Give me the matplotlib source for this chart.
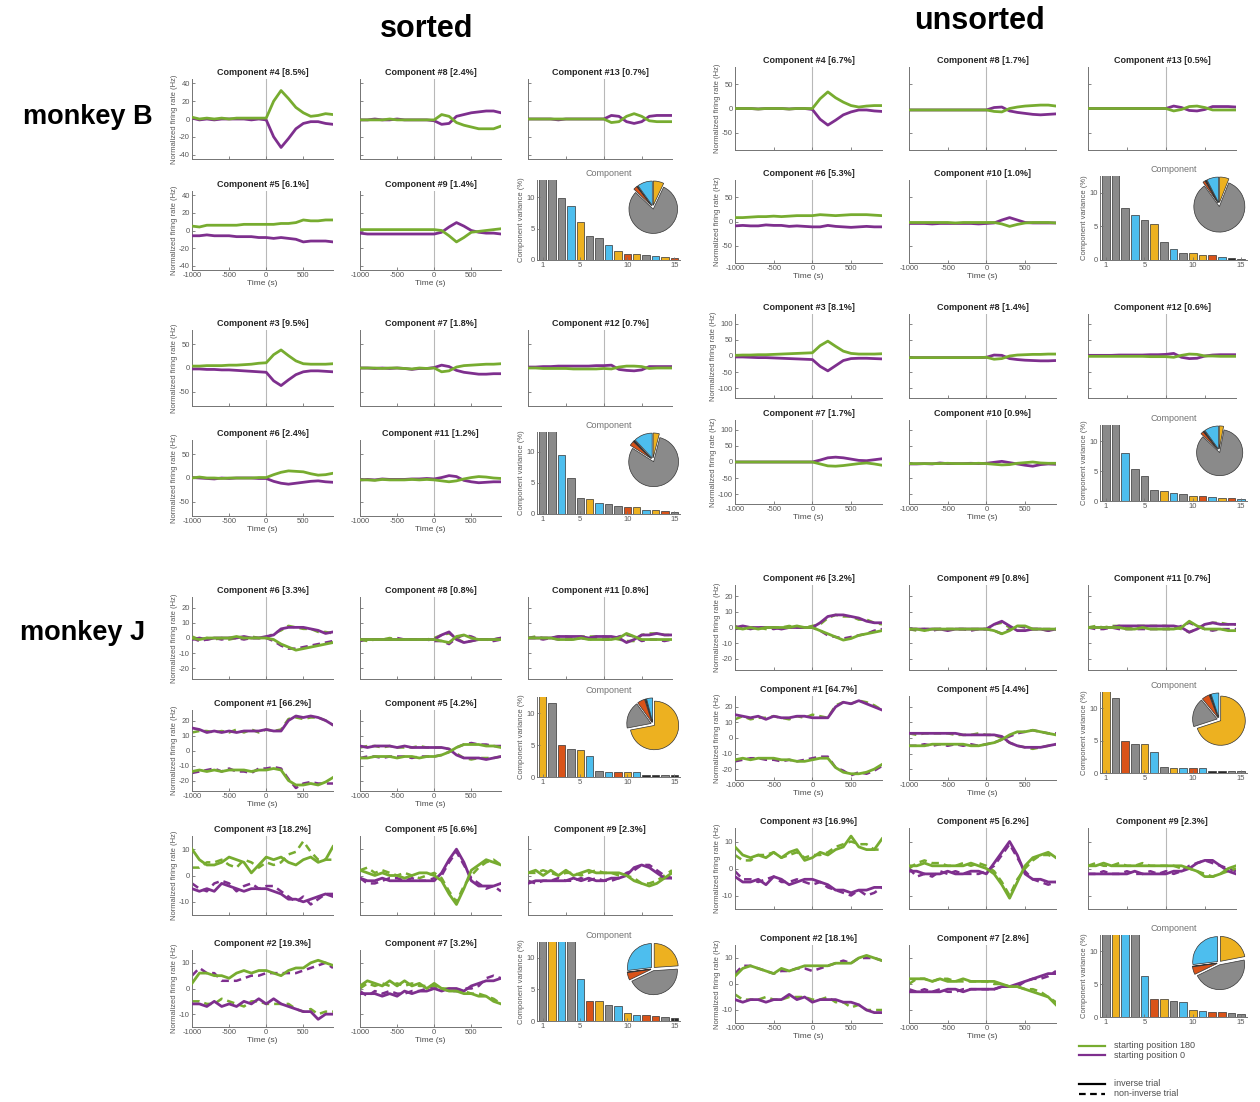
import numpy as np
import matplotlib.pyplot as plt
from matplotlib.lines import Line2D

plt.rcParams['font.family'] = ['Liberation Sans', 'DejaVu Sans']
plt.rcParams['axes.unicode_minus'] = False

W, H = 1260, 1102
GREEN = '#77ac30'
PURPLE = '#7e2f8e'
SHADES = {'G': '#8a8a8a', 'B': '#4dbeee', 'Y': '#edb120', 'R': '#d95319', 'K': '#2a2a2a'}
PIE_ORDER = ['Y', 'G', 'R', 'K', 'B']

# time axis (ms), one sample every 100 ms
TIME = np.arange(-1000, 901, 100)

# ---------------- monkey B, sorted ----------------
bs1_c4_g = [2, 0, 1, 0, 1, 0, 1, 1, 1, 1, 1, 20, 32, 23, 13, 7, 3, 4, 6, 5]
bs1_c4_p = [1, -1, 0, -1, 0, 0, 0, 0, -1, 0, -1, -20, -32, -22, -11, -5, -3, -3, -5, -6]
bs1_c8_g = [-1, -1, -1, -1, 0, -1, -1, -1, -1, -1, -1, 5, 3, -4, -7, -9, -11, -11, -11, -8]
bs1_c8_p = [-1, -1, 0, -1, -1, 0, -1, -1, -1, -1, -2, -6, -5, 3, 5, 7, 8, 9, 9, 7]
bs1_c13_g = [0, 0, 0, 0, 0, 0, 0, 0, 0, 0, 0, -4, -3, 3, 6, 3, -2, -3, -3, -3]
bs1_c13_p = [0, 0, 0, 0, -1, 0, 0, 0, 0, 0, 0, 4, 3, -3, -5, -3, 3, 4, 4, 4]
bs1_c5_g = [5, 4, 6, 6, 6, 6, 6, 7, 7, 7, 7, 7, 8, 8, 9, 12, 11, 11, 12, 12]
bs1_c5_p = [-6, -6, -5, -6, -6, -6, -7, -7, -7, -8, -8, -9, -8, -9, -10, -13, -12, -12, -12, -13]
bs1_c9_g = [1, 1, 1, 1, 1, 1, 1, 1, 1, 1, 1, 0, -6, -13, -8, -2, -1, 0, 1, 2]
bs1_c9_p = [-3, -4, -4, -4, -4, -4, -4, -4, -4, -4, -4, -2, 4, 9, 5, 0, -2, -3, -3, -4]
bs1_bars = [30, 20, 9.9, 8.5, 6.1, 3.8, 3.5, 2.4, 1.4, 1.0, 0.9, 0.8, 0.7, 0.5, 0.3]
bs1_bar_cols = 'GGGBYGGBYRYGBYR'
bs1_pie = [7, 80, 2.5, 0.5, 10]

bs2_c3_g = [4, 4, 5, 5, 5, 6, 6, 7, 8, 10, 11, 28, 38, 26, 15, 9, 8, 8, 8, 9]
bs2_c3_p = [-2, -2, -3, -3, -4, -4, -5, -6, -7, -8, -9, -27, -37, -25, -14, -8, -6, -6, -7, -8]
bs2_c7_g = [0, 0, 0, -1, 0, 0, -1, -2, 0, -1, 0, -8, -6, 2, 5, 6, 7, 8, 8, 9]
bs2_c7_p = [0, 0, -1, 0, -1, 0, -1, -3, -1, -1, 1, 6, 3, -5, -9, -11, -13, -13, -12, -12]
bs2_c12_g = [0, 0, -1, -1, -1, -1, -2, -2, -2, -2, -1, -2, 2, 4, 4, 3, -1, 0, 0, 0]
bs2_c12_p = [2, 2, 3, 3, 4, 4, 4, 4, 4, 5, 5, 6, -3, -5, -6, -4, 3, 3, 3, 3]
bs2_c6_g = [0, 2, 0, 0, -1, 0, 0, 0, 0, 1, 1, 7, 12, 15, 14, 13, 9, 6, 7, 10]
bs2_c6_p = [1, 0, -1, -2, 0, -1, 0, 0, 0, -1, -1, -7, -11, -13, -11, -9, -7, -6, -8, -9]
bs2_c11_g = [-4, -4, -5, -3, -4, -4, -4, -3, -4, -3, -4, -6, -8, -6, -2, 1, 3, 2, 0, -1]
bs2_c11_p = [-4, -3, -4, -2, -3, -3, -3, -2, -2, -1, -2, 1, 5, 3, -5, -8, -10, -9, -8, -8]
bs2_bars = [30, 20, 9.5, 5.8, 2.6, 2.4, 1.8, 1.6, 1.3, 1.2, 1.2, 0.7, 0.7, 0.5, 0.35]
bs2_bar_cols = 'GGBGGYBGGRYBYRG'
bs2_pie = [4, 80, 3, 1, 12]

# ---------------- monkey B, unsorted ----------------
bu1_c4_g = [0, 0, 0, -1, 0, 0, 0, -1, 0, 0, 0, 20, 34, 22, 13, 6, 3, 5, 6, 6]
bu1_c4_p = [0, 0, 0, -1, 0, 0, 0, -1, 0, 0, -2, -22, -34, -24, -13, -7, -3, -3, -5, -6]
bu1_c8_g = [-3, -3, -3, -3, -3, -3, -3, -3, -3, -3, -3, -6, -7, 0, 3, 5, 6, 7, 7, 5]
bu1_c8_p = [-3, -3, -3, -3, -3, -3, -3, -3, -3, -3, -3, 2, 3, -5, -8, -10, -12, -13, -12, -11]
bu1_c13_g = [0, 0, 0, 0, 0, 0, 0, 0, 0, 0, 0, -5, -2, 4, 5, 2, -3, -3, -3, -3]
bu1_c13_p = [0, 0, 0, 0, 0, 0, 0, 0, 0, 0, 0, 5, 2, -4, -5, -2, 4, 4, 4, 3]
bu1_c6_g = [8, 8, 9, 10, 10, 11, 10, 11, 12, 12, 12, 14, 13, 12, 13, 14, 14, 14, 13, 12]
bu1_c6_p = [-9, -8, -9, -9, -7, -8, -8, -10, -9, -10, -11, -11, -8, -10, -11, -12, -11, -10, -11, -11]
bu1_c10_g = [-2, -2, -2, -2, -2, -2, -3, -2, -2, -2, -2, -2, -5, -10, -6, -3, -2, -2, -2, -3]
bu1_c10_p = [-4, -4, -4, -5, -4, -4, -4, -4, -4, -5, -4, -3, 3, 8, 3, -2, -3, -3, -3, -3]
bu1_bars = [30, 20, 7.8, 6.7, 6.0, 5.3, 2.7, 1.7, 1.0, 1.0, 0.8, 0.7, 0.5, 0.3, 0.2]
bu1_bar_cols = 'GGGBGYGBGYYRBKG'
bu1_pie = [6, 84, 1.5, 1, 7.5]

bu2_c3_g = [2, 3, 3, 4, 4, 5, 6, 7, 8, 9, 10, 32, 46, 30, 15, 8, 6, 6, 6, 7]
bu2_c3_p = [-3, -3, -4, -5, -5, -6, -7, -8, -9, -10, -11, -32, -46, -30, -14, -8, -7, -7, -8, -9]
bu2_c8_g = [-5, -5, -5, -5, -5, -5, -5, -5, -5, -5, -4, -10, -8, 0, 3, 4, 5, 5, 6, 6]
bu2_c8_p = [-5, -5, -5, -5, -5, -5, -5, -5, -5, -5, -4, 3, 2, -8, -11, -13, -14, -15, -15, -14]
bu2_c12_g = [-1, -1, -1, -1, -1, -1, -1, -1, -2, -2, -2, -4, 2, 6, 5, 0, 0, -1, -1, -1]
bu2_c12_p = [2, 2, 2, 2, 3, 3, 3, 3, 4, 4, 5, 8, -4, -8, -7, 0, 3, 4, 4, 4]
bu2_c7_g = [0, 0, 0, 0, 0, 0, 0, 0, 0, 0, 0, -6, -12, -13, -11, -8, -5, -3, -6, -10]
bu2_c7_p = [0, 0, 0, 0, 0, 0, 0, 0, 0, 0, 0, 6, 13, 15, 13, 9, 5, 4, 7, 10]
bu2_c10_g = [-5, -5, -5, -5, -5, -4, -5, -5, -5, -4, -5, -7, -9, -8, -4, -2, 0, -3, -4, -4]
bu2_c10_p = [-6, -6, -5, -6, -3, -5, -5, -5, -4, -5, -4, -1, 2, -2, -6, -10, -13, -8, -6, -7]
bu2_bars = [30, 20, 8.1, 5.4, 4.1, 1.9, 1.7, 1.4, 1.2, 0.9, 0.9, 0.6, 0.5, 0.45, 0.4]
bu2_bar_cols = 'GGBGGGYBGYRBYRB'
bu2_pie = [3, 84, 2, 1, 10]

# ---------------- monkey J, sorted ----------------
js1_c6_g = [0, -1, 0, 0, 0, 0, 1, 0, 0, 0, 0, -1, -4, -6, -8, -7, -6, -5, -4, -3]
js1_c6_p = [-1, 0, -1, 0, 0, 0, 0, 1, 0, 0, 1, 2, 6, 7, 7, 7, 6, 5, 3, 4]
js1_c6_gd = [1, -1, 0, -1, 0, -1, 0, 0, 1, 0, 0, 3, 5, 8, 7, 6, 6, 4, 4, 3]
js1_c6_pd = [0, -2, -1, 0, -1, 0, 0, -1, 0, 0, 0, -2, -5, -7, -7, -6, -5, -4, -3, -2]
js1_c8_g = [-1, -1, -1, -1, -1, -1, -1, -1, -1, -1, -1, -2, -3, 1, 2, 0, -1, -1, -1, -1]
js1_c8_p = [-1, -1, -1, -1, -1, -1, -1, -1, -1, -1, -1, 2, 4, -1, -3, -2, -1, -1, -1, 0]
js1_c8_gd = [-1, -2, -1, -1, 0, -1, -1, -1, -1, -1, 0, 2, 3, 0, -3, -2, -1, -1, -1, 0]
js1_c8_pd = [-2, -1, -1, -1, -1, 0, -1, -1, -1, -1, -2, -2, -4, 0, 2, 1, -1, -1, -2, -1]
js1_c11_g = [0, 0, 0, 0, -1, -1, -1, 0, -1, -1, -1, -1, 0, 3, 1, -1, -1, -1, -1, -1]
js1_c11_p = [0, 0, 0, 0, 1, 1, 1, 1, 0, 1, 1, 1, 0, -3, -1, 2, 2, 3, 2, 2]
js1_c11_gd = [0, 1, 0, 0, 1, 1, 0, 1, 1, 1, 1, 0, -1, -2, -2, 2, 3, 3, 2, 2]
js1_c11_pd = [0, 0, -1, 0, -1, -1, -1, 0, -1, 0, -1, -1, 1, 2, 1, -2, -1, -1, -2, -1]
js1_c1_g = [-14, -13, -14, -13, -14, -13, -13, -13, -14, -13, -13, -12, -13, -20, -23, -23, -22, -23, -21, -18]
js1_c1_p = [15, 14, 12, 13, 12, 13, 12, 13, 13, 13, 14, 13, 13, 20, 23, 22, 23, 22, 20, 17]
js1_c1_gd = [12, 13, 13, 12, 13, 12, 14, 12, 14, 12, 14, 13, 14, 21, 22, 21, 22, 22, 20, 17]
js1_c1_pd = [-15, -14, -13, -12, -14, -12, -14, -14, -15, -12, -12, -11, -12, -19, -25, -22, -21, -22, -22, -22]
js1_c5_g = [-5, -5, -4, -4, -4, -5, -4, -4, -5, -4, -4, -3, -1, 2, 4, 4, 4, 3, 3, 2]
js1_c5_p = [3, 2, 3, 3, 3, 2, 3, 2, 2, 2, 2, 2, 1, -3, -5, -5, -5, -6, -5, -4]
js1_c5_gd = [2, 3, 3, 2, 3, 2, 2, 2, 3, 2, 2, 2, 1, -2, -5, -6, -5, -5, -5, -4]
js1_c5_pd = [-5, -4, -4, -5, -4, -4, -4, -5, -4, -4, -4, -3, -1, 2, 4, 5, 4, 4, 3, 3]
js1_bars = [66.2, 11.5, 5.0, 4.3, 4.2, 3.3, 1.0, 0.8, 0.8, 0.8, 0.8, 0.35, 0.35, 0.3, 0.3]
js1_bar_cols = 'YGRGYBGBRYBKKGK'
js1_pie = [72, 18, 5, 1, 4]

js2_c3_g = [10, 6, 4, 4, 5, 7, 6, 5, 1, 4, 7, 6, 7, 5, 4, 6, 7, 5, 6, 11]
js2_c3_p = [-5, -6, -5, -6, -3, -4, -5, -6, -5, -5, -5, -6, -7, -9, -9, -10, -9, -8, -7, -8]
js2_c3_gd = [3, 3, 5, 5, 6, 4, 3, 6, 5, 3, 5, 4, 5, 8, 9, 13, 9, 6, 6, 6]
js2_c3_pd = [-3, -5, -6, -3, -2, -3, -6, -4, -3, -5, -4, -4, -6, -8, -10, -8, -11, -9, -7, -7]
js2_c5_g = [2, 1, 0, 1, 0, 0, -1, 0, 1, 1, 0, -2, -7, -11, -5, 2, 4, 6, 5, 4]
js2_c5_p = [-1, -2, -2, -1, -2, -2, -2, -2, -2, -2, -2, 1, 6, 10, 5, -2, -4, -4, -4, -3]
js2_c5_gd = [2, 3, 1, 2, 1, 0, 1, 0, -1, 0, 1, -1, -6, -10, -4, 0, 3, 5, 6, 4]
js2_c5_pd = [-1, -3, -3, -2, -1, -1, -2, -1, -2, -2, -1, 0, 5, 9, 4, -1, -3, -5, -4, -6]
js2_c9_g = [1, 2, 0, 2, 0, 2, 0, 1, 2, 1, 1, 1, 1, 0, -2, -3, -4, -3, -1, 1]
js2_c9_p = [-3, -2, -2, -2, -2, -2, -1, -2, -1, -2, -2, -1, -1, 0, 3, 4, 3, 1, -1, -1]
js2_c9_gd = [1, 1, 2, 1, 0, 1, 1, 0, 1, 2, 1, 1, 0, 0, -1, -3, -3, -2, 0, 2]
js2_c9_pd = [-2, -3, -2, -2, -1, -2, -2, -1, -2, -1, -2, -2, -1, 1, 2, 4, 4, 2, 0, -1]
js2_c2_g = [2, 6, 6, 5, 5, 4, 6, 7, 6, 7, 7, 6, 5, 7, 8, 8, 10, 11, 10, 9]
js2_c2_p = [-6, -6, -7, -5, -7, -6, -7, -5, -6, -4, -6, -4, -6, -7, -8, -9, -9, -12, -10, -10]
js2_c2_gd = [-5, -5, -6, -6, -4, -5, -6, -7, -5, -5, -6, -6, -6, -6, -8, -9, -8, -10, -9, -9]
js2_c2_pd = [5, 8, 6, 6, 3, 3, 3, 4, 5, 5, 6, 6, 6, 6, 6, 7, 8, 9, 10, 8]
js2_c7_g = [1, 3, 2, 1, 3, 1, 3, 1, 2, 0, 2, 0, -1, -1, -2, -2, -3, -3, -5, -6]
js2_c7_p = [-2, -2, -2, -3, -2, -3, -1, -2, -1, -1, 0, -1, 0, 0, -1, 1, 2, 3, 3, 4]
js2_c7_gd = [0, 2, 1, 2, 1, 2, 1, 2, 1, 1, 1, 0, 0, -1, -1, -2, -2, -3, -4, -6]
js2_c7_pd = [-1, -3, -1, -2, -1, -2, -2, -1, -1, 0, 1, 0, -1, -1, 0, 0, 1, 4, 5, 4]
js2_bars = [25.0, 19.3, 18.2, 15.0, 6.6, 3.2, 3.2, 2.5, 2.3, 1.2, 0.9, 0.9, 0.8, 0.6, 0.5]
js2_bar_cols = 'GYBGBRYGBYBRRGK'
js2_pie = [24, 44, 5, 0.3, 27]

# ---------------- monkey J, unsorted ----------------
ju1_c6_g = [0, -1, 0, -1, 0, 0, 0, 0, 1, 0, 0, -2, -4, -6, -8, -7, -5, -4, -3, -2]
ju1_c6_p = [0, 1, 0, 0, 0, 0, -1, 0, 0, 0, 0, 3, 7, 8, 8, 7, 6, 4, 3, 3]
ju1_c6_gd = [1, -1, 0, 0, -1, 0, 0, 1, 0, 0, 1, 2, 6, 8, 7, 7, 5, 5, 3, 2]
ju1_c6_pd = [-1, 0, -1, 0, 0, -1, 0, 0, 0, 0, 0, -2, -5, -6, -7, -6, -5, -4, -2, -1]
ju1_c9_g = [-1, -1, -2, -1, -1, -1, -1, -1, -1, -1, -1, -2, -4, -2, 1, 1, -1, -1, -1, -1]
ju1_c9_p = [-1, -1, -1, -1, -1, -2, -1, -1, -1, -1, -1, 2, 4, 1, -2, -2, -1, -1, -2, -1]
ju1_c9_gd = [-1, -2, -1, -1, -1, -1, -1, -1, -1, -1, -1, 2, 3, 0, -2, -2, -1, -1, -2, -1]
ju1_c9_pd = [-1, -1, -1, -2, -1, -1, -1, -1, -2, -1, -1, -2, -4, -1, 1, 0, -1, -1, -1, -1]
ju1_c11_g = [0, 0, 0, 0, 0, -1, -1, 0, -1, -1, -1, -1, 0, 4, 1, -1, -1, -1, -2, -2]
ju1_c11_p = [0, 0, 0, 0, 1, 1, 1, 1, 1, 1, 1, 1, 0, -3, -1, 2, 3, 2, 2, 2]
ju1_c11_gd = [0, 1, 0, 1, 1, 0, 1, 1, 1, 1, 1, 0, -1, -3, -1, 2, 3, 3, 2, 2]
ju1_c11_pd = [0, -1, -1, 0, -1, -1, -1, -1, -1, -1, -1, -1, 1, 3, 1, -1, -2, -1, -1, -1]
ju1_c1_g = [-14, -13, -14, -13, -13, -13, -14, -14, -15, -15, -14, -13, -13, -19, -22, -23, -23, -22, -20, -17]
ju1_c1_p = [15, 14, 13, 14, 12, 14, 13, 13, 14, 14, 13, 13, 13, 20, 23, 22, 24, 22, 20, 18]
ju1_c1_gd = [12, 14, 12, 13, 13, 14, 13, 12, 14, 13, 15, 14, 13, 21, 23, 22, 24, 23, 21, 18]
ju1_c1_pd = [-15, -14, -13, -13, -14, -14, -15, -14, -15, -14, -13, -12, -12, -19, -21, -24, -22, -23, -21, -18]
ju1_c5_g = [-5, -5, -5, -4, -4, -4, -4, -4, -5, -5, -4, -3, -1, 2, 4, 4, 5, 4, 3, 2]
ju1_c5_p = [3, 3, 3, 3, 3, 3, 3, 2, 2, 2, 2, 2, 1, -3, -5, -6, -6, -6, -5, -4]
ju1_c5_gd = [3, 2, 3, 3, 3, 3, 2, 2, 2, 3, 2, 2, 0, -3, -5, -6, -7, -6, -5, -4]
ju1_c5_pd = [-5, -5, -4, -5, -4, -5, -4, -5, -4, -5, -4, -3, -1, 1, 3, 4, 5, 4, 3, 3]
ju1_bars = [64.7, 11.5, 5.0, 4.4, 4.4, 3.2, 1.0, 0.8, 0.8, 0.7, 0.7, 0.35, 0.35, 0.25, 0.25]
ju1_bar_cols = 'YGRGYBGYBRBKKGG'
ju1_pie = [70, 19, 5, 1, 5]

ju2_c3_g = [8, 5, 4, 5, 4, 6, 4, 6, 7, 3, 4, 6, 5, 7, 8, 12, 8, 7, 7, 11]
ju2_c3_p = [-3, -5, -5, -4, -6, -3, -4, -6, -5, -4, -4, -5, -6, -8, -8, -9, -8, -8, -7, -7]
ju2_c3_gd = [5, 3, 3, 5, 5, 6, 4, 5, 6, 4, 5, 5, 6, 8, 9, 10, 9, 9, 7, 7]
ju2_c3_pd = [-1, -4, -4, -5, -4, -3, -5, -5, -4, -5, -6, -5, -7, -8, -9, -10, -8, -10, -9, -7]
ju2_c5_g = [1, 1, 2, 1, 1, 1, 1, 1, 2, 1, 0, -2, -6, -11, -5, 1, 4, 5, 6, 4]
ju2_c5_p = [-1, -1, -2, -2, -2, -1, -2, -2, -1, -1, -2, 2, 6, 10, 5, -2, -4, -4, -5, -5]
ju2_c5_gd = [0, 2, 3, 2, 2, 1, 1, 2, 1, 2, 1, -1, -5, -10, -4, 0, 3, 5, 5, 4]
ju2_c5_pd = [0, -3, -2, -3, -1, -2, -1, -2, -2, -2, -1, 1, 5, 9, 4, -1, -4, -5, -6, -5]
ju2_c9_g = [1, 1, 2, 1, 1, 1, 1, 1, 1, 1, 1, 1, 1, 0, -1, -3, -3, -2, 0, 1]
ju2_c9_p = [-2, -2, -2, -2, -2, -2, -1, -2, -2, -2, -2, -1, -1, 0, 2, 3, 3, 1, -1, -2]
ju2_c9_gd = [1, 2, 1, 1, 2, 1, 1, 2, 1, 1, 1, 1, 0, 0, -1, -2, -3, -2, -1, 0]
ju2_c9_pd = [-2, -2, -1, -2, -2, -1, -2, -2, -1, -2, -1, -2, -1, 1, 2, 3, 2, 1, 0, -1]
ju2_c2_g = [3, 6, 7, 6, 5, 4, 6, 5, 6, 7, 7, 7, 7, 8, 8, 8, 10, 11, 10, 9]
ju2_c2_p = [-6, -7, -6, -6, -7, -6, -6, -4, -6, -5, -7, -6, -6, -6, -7, -7, -8, -10, -11, -11]
ju2_c2_gd = [-4, -6, -6, -6, -5, -6, -6, -5, -5, -5, -6, -6, -5, -7, -7, -9, -8, -10, -10, -10]
ju2_c2_pd = [4, 7, 7, 6, 5, 4, 5, 5, 6, 6, 5, 6, 7, 8, 9, 8, 10, 10, 10, 9]
ju2_c7_g = [2, 2, 2, 1, 2, 1, 1, 2, 1, 1, 1, 1, 0, -1, -1, -2, -3, -4, -5, -8]
ju2_c7_p = [-3, -3, -3, -3, -3, -2, -2, -3, -2, -2, -2, -2, -1, -1, 0, 1, 2, 3, 4, 4]
ju2_c7_gd = [0, 2, 2, 1, 2, 2, 1, 1, 1, 1, 1, 0, 0, -1, -1, -2, -2, -3, -5, -7]
ju2_c7_pd = [-2, -3, -2, -3, -2, -3, -3, -2, -2, -2, -2, -2, -1, -1, -1, 1, 2, 2, 3, 5]
ju2_bars = [25.0, 18.1, 16.9, 15.0, 6.2, 2.8, 2.8, 2.4, 2.3, 1.0, 0.9, 0.8, 0.7, 0.6, 0.4]
ju2_bar_cols = 'GYBGBRYGBYBRRGG'
ju2_pie = [22, 46, 5, 0.3, 27]

# ---------------- layout (pixels) ----------------
SORT_COLS = [(192, 333), (360, 501), (528, 672)]
SORT_BAR = (537, 680)
UNS_COLS = [(735, 882), (909, 1056), (1088, 1236)]
UNS_BAR = (1100, 1247)

blocks = [
    dict(cols=SORT_COLS, bar_x=SORT_BAR, rows=[(79, 159), (191, 270)], bar_y=(180, 260), bar_top=12.7,
         ylim=45, yticks=[-40, -20, 0, 20, 40], comps=[4, 8, 13, 5, 9],
         lines=[(bs1_c4_g, bs1_c4_p, None, None), (bs1_c8_g, bs1_c8_p, None, None),
                (bs1_c13_g, bs1_c13_p, None, None), (bs1_c5_g, bs1_c5_p, None, None),
                (bs1_c9_g, bs1_c9_p, None, None)],
         bars=bs1_bars, bar_cols=bs1_bar_cols, pie=bs1_pie),
    dict(cols=SORT_COLS, bar_x=SORT_BAR, rows=[(330, 406), (440, 516)], bar_y=(432, 514), bar_top=13.2,
         ylim=80, yticks=[-50, 0, 50], comps=[3, 7, 12, 6, 11],
         lines=[(bs2_c3_g, bs2_c3_p, None, None), (bs2_c7_g, bs2_c7_p, None, None),
                (bs2_c12_g, bs2_c12_p, None, None), (bs2_c6_g, bs2_c6_p, None, None),
                (bs2_c11_g, bs2_c11_p, None, None)],
         bars=bs2_bars, bar_cols=bs2_bar_cols, pie=bs2_pie),
    dict(cols=UNS_COLS, bar_x=UNS_BAR, rows=[(67, 150), (180, 263)], bar_y=(176, 260), bar_top=12.5,
         ylim=85, yticks=[-50, 0, 50], comps=[4, 8, 13, 6, 10],
         lines=[(bu1_c4_g, bu1_c4_p, None, None), (bu1_c8_g, bu1_c8_p, None, None),
                (bu1_c13_g, bu1_c13_p, None, None), (bu1_c6_g, bu1_c6_p, None, None),
                (bu1_c10_g, bu1_c10_p, None, None)],
         bars=bu1_bars, bar_cols=bu1_bar_cols, pie=bu1_pie),
    dict(cols=UNS_COLS, bar_x=UNS_BAR, rows=[(314, 398), (420, 504)], bar_y=(425, 501), bar_top=12.7,
         ylim=130, yticks=[-100, -50, 0, 50, 100], comps=[3, 8, 12, 7, 10],
         lines=[(bu2_c3_g, bu2_c3_p, None, None), (bu2_c8_g, bu2_c8_p, None, None),
                (bu2_c12_g, bu2_c12_p, None, None), (bu2_c7_g, bu2_c7_p, None, None),
                (bu2_c10_g, bu2_c10_p, None, None)],
         bars=bu2_bars, bar_cols=bu2_bar_cols, pie=bu2_pie),
    dict(cols=SORT_COLS, bar_x=SORT_BAR, rows=[(597, 679), (710, 791)], bar_y=(697, 777), bar_top=12.5,
         ylim=27, yticks=[-20, -10, 0, 10, 20], comps=[6, 8, 11, 1, 5],
         lines=[(js1_c6_g, js1_c6_p, js1_c6_gd, js1_c6_pd), (js1_c8_g, js1_c8_p, js1_c8_gd, js1_c8_pd),
                (js1_c11_g, js1_c11_p, js1_c11_gd, js1_c11_pd), (js1_c1_g, js1_c1_p, js1_c1_gd, js1_c1_pd),
                (js1_c5_g, js1_c5_p, js1_c5_gd, js1_c5_pd)],
         bars=js1_bars, bar_cols=js1_bar_cols, pie=js1_pie),
    dict(cols=SORT_COLS, bar_x=SORT_BAR, rows=[(836, 915), (950, 1027)], bar_y=(942, 1021), bar_top=12.5,
         ylim=15, yticks=[-10, 0, 10], comps=[3, 5, 9, 2, 7],
         lines=[(js2_c3_g, js2_c3_p, js2_c3_gd, js2_c3_pd), (js2_c5_g, js2_c5_p, js2_c5_gd, js2_c5_pd),
                (js2_c9_g, js2_c9_p, js2_c9_gd, js2_c9_pd), (js2_c2_g, js2_c2_p, js2_c2_gd, js2_c2_pd),
                (js2_c7_g, js2_c7_p, js2_c7_gd, js2_c7_pd)],
         bars=js2_bars, bar_cols=js2_bar_cols, pie=js2_pie),
    dict(cols=UNS_COLS, bar_x=UNS_BAR, rows=[(585, 670), (696, 780)], bar_y=(692, 773), bar_top=12.5,
         ylim=27, yticks=[-20, -10, 0, 10, 20], comps=[6, 9, 11, 1, 5],
         lines=[(ju1_c6_g, ju1_c6_p, ju1_c6_gd, ju1_c6_pd), (ju1_c9_g, ju1_c9_p, ju1_c9_gd, ju1_c9_pd),
                (ju1_c11_g, ju1_c11_p, ju1_c11_gd, ju1_c11_pd), (ju1_c1_g, ju1_c1_p, ju1_c1_gd, ju1_c1_pd),
                (ju1_c5_g, ju1_c5_p, ju1_c5_gd, ju1_c5_pd)],
         bars=ju1_bars, bar_cols=ju1_bar_cols, pie=ju1_pie),
    dict(cols=UNS_COLS, bar_x=UNS_BAR, rows=[(828, 909), (945, 1023)], bar_y=(935, 1017), bar_top=12.5,
         ylim=15, yticks=[-10, 0, 10], comps=[3, 5, 9, 2, 7],
         lines=[(ju2_c3_g, ju2_c3_p, ju2_c3_gd, ju2_c3_pd), (ju2_c5_g, ju2_c5_p, ju2_c5_gd, ju2_c5_pd),
                (ju2_c9_g, ju2_c9_p, ju2_c9_gd, ju2_c9_pd), (ju2_c2_g, ju2_c2_p, ju2_c2_gd, ju2_c2_pd),
                (ju2_c7_g, ju2_c7_p, ju2_c7_gd, ju2_c7_pd)],
         bars=ju2_bars, bar_cols=ju2_bar_cols, pie=ju2_pie),
]

fig = plt.figure(figsize=(W / 100, H / 100), dpi=100)


def add_px(x0, y0, x1, y1):
    return fig.add_axes([x0 / W, 1 - y1 / H, (x1 - x0) / W, (y1 - y0) / H])


def style_axes(ax):
    for side in ('top', 'right'):
        ax.spines[side].set_visible(False)
    for side in ('left', 'bottom'):
        ax.spines[side].set_color('0.45')
        ax.spines[side].set_linewidth(0.7)
    ax.tick_params(direction='in', length=2, width=0.6, colors='0.45',
                   labelsize=5.5, labelcolor='0.35', pad=1.5)


def line_panel(box, title, g, p, gd, pd, ylim, yticks, left, bottom):
    ax = add_px(*box)
    style_axes(ax)
    ax.axvline(0, color='0.72', lw=0.8, zorder=1)
    if gd is not None:
        ax.plot(TIME, pd, color=PURPLE, lw=1.8, ls=(0, (3, 2)), zorder=2)
        ax.plot(TIME, gd, color=GREEN, lw=1.8, ls=(0, (3, 2)), zorder=2)
    ax.plot(TIME, p, color=PURPLE, lw=2.0, zorder=3)
    ax.plot(TIME, g, color=GREEN, lw=2.0, zorder=3)
    ax.set_xlim(-1000, 900)
    ax.set_ylim(-ylim, ylim)
    ax.set_xticks([-1000, -500, 0, 500])
    ax.set_yticks(yticks)
    ax.set_title(title, fontsize=6.5, fontweight='bold', color='0.15', pad=3)
    if left:
        ax.set_ylabel('Normalized firing rate (Hz)', fontsize=5.5, color='0.35', labelpad=1)
    else:
        ax.set_yticklabels([])
    if bottom:
        ax.set_xlabel('Time (s)', fontsize=6, color='0.3', labelpad=1)
    else:
        ax.set_xticklabels([])


def bar_panel(box, heights, cols, top, pie):
    ax = add_px(*box)
    style_axes(ax)
    idx = np.arange(1, len(heights) + 1)
    ax.bar(idx, heights, width=0.8, color=[SHADES[c] for c in cols],
           edgecolor='0.2', linewidth=0.5)
    ax.set_xlim(0.4, 15.6)
    ax.set_ylim(0, top)
    ax.set_xticks([1, 5, 10, 15])
    ax.set_yticks([0, 5, 10])
    ax.set_title('Component', fontsize=6.5, color='0.45', pad=3)
    ax.set_ylabel('Component variance (%)', fontsize=5.5, color='0.35', labelpad=1)

    # share of variance per marginalization, as an inset pie
    x0, y0, x1, y1 = box
    w, h = x1 - x0, y1 - y0
    pax = add_px(x0 + 0.6 * w, y0, x1 + 3, y0 + 0.68 * h)
    pax.pie(pie, colors=[SHADES[c] for c in PIE_ORDER], startangle=90, counterclock=False,
            explode=[0.08] * len(pie), wedgeprops=dict(edgecolor='0.2', linewidth=0.5))
    pax.set_xlim(-1.12, 1.12)
    pax.set_ylim(-1.12, 1.12)
    pax.set_aspect('equal')


for blk in blocks:
    (r1a, r1b), (r2a, r2b) = blk['rows']
    boxes = [(blk['cols'][0][0], r1a, blk['cols'][0][1], r1b),
             (blk['cols'][1][0], r1a, blk['cols'][1][1], r1b),
             (blk['cols'][2][0], r1a, blk['cols'][2][1], r1b),
             (blk['cols'][0][0], r2a, blk['cols'][0][1], r2b),
             (blk['cols'][1][0], r2a, blk['cols'][1][1], r2b)]
    for i, (box, comp, (g, p, gd, pd)) in enumerate(zip(boxes, blk['comps'], blk['lines'])):
        title = f"Component #{comp} [{blk['bars'][comp - 1]:.1f}%]"
        line_panel(box, title, g, p, gd, pd, blk['ylim'], blk['yticks'],
                   left=(i in (0, 3)), bottom=(i >= 3))
    bx0, bx1 = blk['bar_x']
    by0, by1 = blk['bar_y']
    bar_panel((bx0, by0, bx1, by1), blk['bars'], blk['bar_cols'], blk['bar_top'], blk['pie'])

# headings
fig.text(427 / W, 1 - 29 / H, 'sorted', ha='center', va='center', fontsize=22, fontweight='bold')
fig.text(980 / W, 1 - 21 / H, 'unsorted', ha='center', va='center', fontsize=22, fontweight='bold')
fig.text(88 / W, 1 - 117 / H, 'monkey B', ha='center', va='center', fontsize=19.5, fontweight='bold')
fig.text(83 / W, 1 - 633 / H, 'monkey J', ha='center', va='center', fontsize=19.5, fontweight='bold')

# key for colours and line styles
key = [(1046, GREEN, '-', 'starting position 180'),
       (1055, PURPLE, '-', 'starting position 0'),
       (1084, 'black', '-', 'inverse trial'),
       (1094, 'black', (0, (3, 2)), 'non-inverse trial')]
for y, c, ls, label in key:
    fig.add_artist(Line2D([1079 / W, 1105 / W], [1 - y / H, 1 - y / H], color=c, ls=ls, lw=1.6))
    fig.text(1114 / W, 1 - y / H, label, fontsize=6.5, color='0.3', va='center')

fig.savefig('out.png', dpi=100)
